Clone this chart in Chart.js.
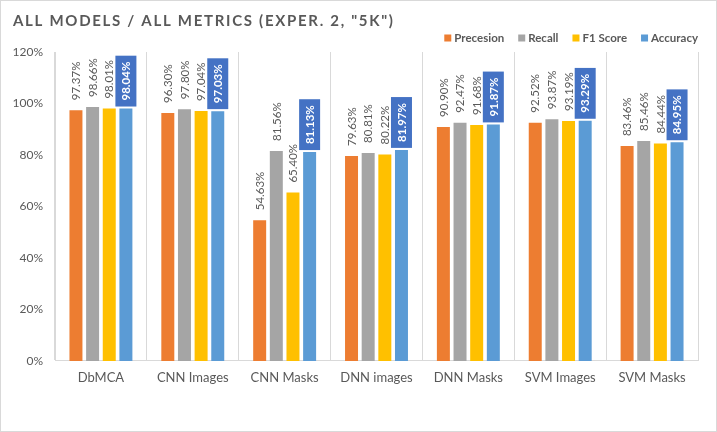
<!DOCTYPE html>
<html>
<head>
<meta charset="utf-8">
<script src="https://cdn.jsdelivr.net/npm/chart.js@4"></script>
<style>
  html, body { margin: 0; padding: 0; background: #fff; }
  #wrap { width: 715px; height: 430px; border: 1px solid #d9d9d9; }
</style>
</head>
<body>
<div id="wrap"><canvas id="chart" width="715" height="430"></canvas></div>
<script>
// data
var labels = ['DbMCA', 'CNN Images', 'CNN Masks', 'DNN images', 'DNN Masks', 'SVM Images', 'SVM Masks'];
var precision = [97.37, 96.30, 54.63, 79.63, 90.90, 92.52, 83.46];
var recall    = [98.66, 97.80, 81.56, 80.81, 92.47, 93.87, 85.46];
var f1score   = [98.01, 97.04, 65.40, 80.22, 91.68, 93.19, 84.44];
var accuracy  = [98.04, 97.03, 81.13, 81.97, 91.87, 93.29, 84.95];
var yTicks = [0, 20, 40, 60, 80, 100, 120];

var titleText = 'ALL MODELS / ALL METRICS (EXPER. 2, "5K")';
var textGray = '#595959';
var lineGray = '#d9d9d9';
var fontName = 'Lato, "Open Sans", sans-serif';

// value labels drawn vertically above each bar
var barLabels = {
    id: 'barLabels',
    afterDatasetsDraw: function(chart) {
        var ctx = chart.ctx;
        chart.data.datasets.forEach(function(ds, i) {
            var meta = chart.getDatasetMeta(i);
            meta.data.forEach(function(bar, j) {
                var txt = ds.data[j].toFixed(2) + '%';
                ctx.save();
                ctx.translate(bar.x, bar.y);
                ctx.rotate(-Math.PI / 2);
                ctx.textBaseline = 'middle';
                ctx.textAlign = 'left';
                if (ds.boxed) {
                    ctx.font = 'bold 11.5px ' + fontName;
                    var w = ctx.measureText(txt).width;
                    ctx.fillStyle = '#4472C4';
                    ctx.fillRect(2, -10.5, w + 12, 21);
                    ctx.fillStyle = '#ffffff';
                    ctx.fillText(txt, 8, 0.5);
                } else {
                    ctx.font = '11.5px ' + fontName;
                    ctx.fillStyle = textGray;
                    ctx.fillText(txt, 10, 0.5);
                }
                ctx.restore();
            });
        });
    }
};

// spaced-out title and the small legend in the top right
var header = {
    id: 'header',
    afterDraw: function(chart) {
        var ctx = chart.ctx;
        ctx.save();
        ctx.fillStyle = textGray;
        ctx.textBaseline = 'middle';
        ctx.textAlign = 'left';
        ctx.font = 'bold 15px ' + fontName;
        var plain = ctx.measureText(titleText).width;
        ctx.letterSpacing = ((380 - plain) / (titleText.length - 1)).toFixed(2) + 'px';
        ctx.fillText(titleText, 12, 20);
        ctx.letterSpacing = '0px';

        ctx.font = 'bold 11.5px ' + fontName;
        var x = 697;
        var y = 37;
        for (var i = chart.data.datasets.length - 1; i >= 0; i--) {
            var ds = chart.data.datasets[i];
            var w = ctx.measureText(ds.label).width;
            x -= w;
            ctx.fillStyle = textGray;
            ctx.fillText(ds.label, x, y + 0.5);
            x -= 10;
            ctx.fillStyle = ds.backgroundColor;
            ctx.fillRect(x, y - 3.5, 7, 7);
            x -= 14;
        }
        ctx.restore();
    }
};

var ctx = document.getElementById('chart').getContext('2d');
var chart = new Chart(ctx, {
    type: 'bar',
    data: {
        labels: labels,
        datasets: [
            { label: 'Precesion', data: precision, backgroundColor: '#ED7D31' },
            { label: 'Recall', data: recall, backgroundColor: '#A5A5A5' },
            { label: 'F1 Score', data: f1score, backgroundColor: '#FFC000' },
            { label: 'Accuracy', data: accuracy, backgroundColor: '#5B9BD5', boxed: true },
        ],
    },
    options: {
        responsive: false,
        animation: false,
        datasets: {
            bar: { categoryPercentage: 0.725, barPercentage: 0.78 },
        },
        layout: {
            padding: { left: 8, right: 18, top: 51, bottom: 36.5 },
        },
        plugins: {
            tooltip: { enabled: false },
            title: { display: false },
            legend: { display: false },
        },
        scales: {
            x: {
                grid: { display: true, offset: true, color: lineGray, drawTicks: false },
                border: { color: lineGray },
                ticks: {
                    color: textGray,
                    font: { family: fontName, size: 13 },
                    padding: 9,
                },
            },
            y: {
                min: 0,
                max: 120,
                afterBuildTicks: function(scale) {
                    scale.ticks = yTicks.map(function(v) { return { value: v }; });
                },
                afterFit: function(scale) {
                    scale.width = 46;
                },
                grid: { display: false, drawTicks: false },
                border: { display: true, color: lineGray },
                ticks: {
                    color: textGray,
                    font: { family: fontName, size: 12 },
                    padding: 12,
                    callback: function(value) {
                        return value + '%';
                    },
                },
            },
            yRight: {
                position: 'right',
                min: 0,
                max: 120,
                afterFit: function(scale) {
                    scale.width = 0;
                },
                grid: { display: false, drawTicks: false },
                border: { display: true, color: lineGray },
                ticks: { display: false },
            },
        },
    },
    plugins: [barLabels, header],
});
</script>
</body>
</html>
